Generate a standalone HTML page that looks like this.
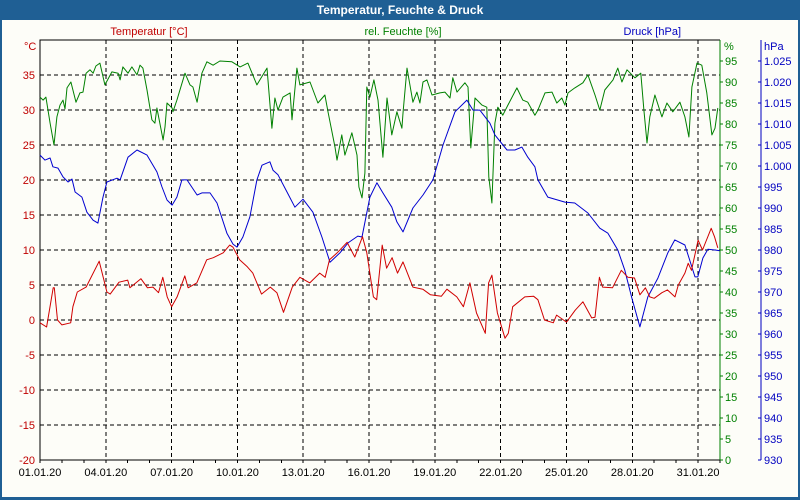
<!DOCTYPE html>
<html><head><meta charset="utf-8"><style>
body{margin:0;background:#fff}
svg{display:block}
text{font-family:"Liberation Sans",sans-serif;font-size:11px}
</style></head><body>
<svg id="chart" width="800" height="500" xmlns="http://www.w3.org/2000/svg">
<rect x="0" y="0" width="800" height="500" fill="#1f5f94"/>
<rect x="2" y="20" width="796" height="477" fill="#fdfdf8"/>
<text x="400" y="14" text-anchor="middle" fill="#fff" font-weight="bold" style="font-size:12px">Temperatur, Feuchte &amp; Druck</text>
<text x="149" y="35" text-anchor="middle" fill="#c00000">Temperatur [°C]</text>
<text x="403" y="35" text-anchor="middle" fill="#008000">rel. Feuchte [%]</text>
<text x="681" y="35" text-anchor="end" fill="#0000c0">Druck [hPa]</text>
<text x="24" y="50" fill="#c00000">°C</text>
<text x="724" y="50" fill="#008000">%</text>
<text x="764" y="50" fill="#0000c0">hPa</text>
<g id="grid"></g><g id="axes"></g><g id="series"></g>
</svg>
<script>
const tempTicks=[-20,-15,-10,-5,0,5,10,15,20,25,30,35];
const humTicks=[0,5,10,15,20,25,30,35,40,45,50,55,60,65,70,75,80,85,90,95];
const presTicks=[930,935,940,945,950,955,960,965,970,975,980,985,990,995,1000,1005,1010,1015,1020,1025];
const dateLabels=["01.01.20","04.01.20","07.01.20","10.01.20","13.01.20","16.01.20","19.01.20","22.01.20","25.01.20","28.01.20","31.01.20"];
const tempTimes=[0,0.3,0.6,0.65,0.8,1.0,1.4,1.5,1.7,2.1,2.7,3.05,3.2,3.6,4.0,4.1,4.6,4.9,5.15,5.4,5.6,5.8,6.0,6.25,6.6,6.75,7.15,7.6,7.9,8.35,8.65,8.8,9.1,9.45,9.7,10.1,10.5,10.8,11.1,11.5,11.85,12.3,12.75,13.0,13.2,13.55,14.0,14.35,14.7,14.9,15.2,15.35,15.6,15.8,16.05,16.3,16.55,17.0,17.45,17.8,18.3,18.55,19.0,19.3,19.6,19.9,20.3,20.45,20.6,20.85,21.2,21.35,21.55,22.1,22.5,22.7,23.0,23.4,23.55,24.0,24.4,24.75,25.15,25.3,25.5,25.65,26.1,26.5,26.8,27.1,27.35,27.6,27.8,28.0,28.35,28.6,28.95,29.1,29.4,29.55,29.7,30.0,30.2,30.6,30.75,30.9];
const tempValues=[-0.4,-1.0,4.6,4.6,0,-0.7,-0.4,1.9,4.0,4.7,8.4,4.0,3.7,5.4,5.7,4.6,5.9,4.6,4.7,3.9,6.1,3.3,1.9,3.3,6.3,4.6,5.3,8.6,8.9,9.6,10.7,10.4,8.6,7.6,6.7,3.7,4.7,3.9,1.1,4.7,6.1,5.3,6.7,6.1,8.6,9.6,11.1,9.0,11.9,9.6,3.3,2.9,10.7,7.4,8.9,6.7,8.3,4.7,4.4,3.6,3.4,4.4,3.3,1.9,5.3,1.0,-1.9,5.3,6.4,1.0,-2.6,-1.9,1.9,3.3,3.4,2.9,0,-0.4,0.7,-0.3,1.4,2.6,0.3,0.4,6.1,4.7,4.6,7.1,6.1,6.0,3.6,4.6,3.3,3.1,3.9,4.3,3.3,5.0,6.7,8.1,7.1,11.4,10.0,13.1,11.9,10.3];
const humTimes=[0,0.14,0.27,0.46,0.64,0.77,0.91,1.05,1.14,1.23,1.41,1.64,1.82,1.96,2.1,2.28,2.42,2.55,2.73,2.96,3.28,3.56,3.65,3.78,4.01,4.19,4.42,4.56,4.69,4.88,5.1,5.24,5.33,5.61,5.7,5.79,6.02,6.06,6.24,6.61,6.84,6.97,7.16,7.38,7.61,7.89,8.2,8.75,9.12,9.48,9.89,10.16,
10.35,10.57,10.71,10.85,11.08,11.4,11.49,11.71,11.85,12.31,12.67,12.99,13.13,13.45,13.54,13.76,13.9,14.22,14.45,14.54,14.68,14.81,14.9,15.04,15.22,15.41,15.63,15.82,16.04,16.27,16.5,16.55,16.73,17.0,17.18,17.32,17.46,17.64,17.87,18.23,18.46,18.69,18.82,19.01,19.37,19.51,19.64,19.83,20.15,20.37,20.46,
20.6,20.74,20.87,21.1,21.33,21.74,22.01,22.24,22.56,22.7,23.02,23.34,23.56,23.79,23.93,24.07,24.38,24.75,24.98,25.3,25.52,25.75,26.12,26.34,26.53,26.76,27.12,27.39,27.53,27.67,27.8,28.03,28.35,28.58,28.85,29.17,29.4,29.58,29.72,29.95,30.17,30.4,30.63,30.77,30.9];
const humValues=[86.4,85.7,86.4,80.2,75.0,81.7,84.5,85.7,83.6,88.6,90.0,85.2,87.4,87.6,92.1,92.9,92.1,93.8,94.5,89.3,92.4,92.1,90.5,93.6,92.1,93.6,91.7,94.0,93.3,88.1,81.0,80.2,83.8,76.2,79.3,85.0,83.8,82.9,85.7,92.1,89.3,88.8,85.2,92.1,94.8,94.0,95.0,94.8,93.6,94.5,89.3,91.7,
93.3,79.0,86.2,83.3,86.4,87.4,81.0,93.3,89.3,90.0,85.0,86.9,82.9,74.5,71.4,77.4,72.6,77.9,72.6,65.0,62.4,68.3,88.8,86.4,90.5,85.7,72.1,86.2,77.4,82.9,79.0,82.6,93.3,85.2,87.6,85.0,90.0,90.5,86.9,87.4,87.6,86.2,91.0,87.6,89.8,88.8,74.3,86.2,84.5,84.0,67.4,
61.2,80.2,84.0,82.1,84.5,88.6,85.7,85.2,82.1,83.3,87.4,87.6,85.0,86.2,84.5,87.4,88.6,89.8,91.7,86.9,83.3,88.1,90.5,93.3,90.0,92.9,91.0,92.1,83.3,75.5,81.7,86.9,81.7,85.0,82.9,85.2,81.7,76.9,88.8,94.5,94.0,87.4,77.4,79.0,83.8];
const presTimes=[0,0.23,0.46,0.59,0.82,1.05,1.28,1.46,1.6,1.91,2.14,2.42,2.64,2.87,3.05,3.51,3.65,4.01,4.42,4.88,5.33,5.56,5.79,6.02,6.24,6.47,6.7,7.16,7.38,7.75,8.07,8.52,8.8,8.98,9.25,9.57,9.89,10.12,10.48,
10.62,10.85,11.26,11.62,11.99,12.44,12.85,13.22,13.67,14.04,14.49,14.68,15.04,15.36,15.63,16.04,16.27,16.55,17.0,17.46,17.91,18.37,18.92,19.46,19.74,20.05,20.51,
20.74,21.29,21.65,21.97,22.24,22.56,22.7,23.15,23.93,24.38,24.98,25.52,25.89,26.34,26.66,26.98,27.35,27.71,28.17,28.62,28.94,29.4,29.86,29.99,30.22,30.45,30.77,30.99];
const presValues=[1002.6,1001.4,1001.9,999.8,999.5,997.4,996.2,996.9,993.8,992.6,989.0,987.1,986.4,992.6,996.2,997.1,996.7,1002.1,1003.8,1002.6,998.6,995.0,991.9,990.7,992.6,996.7,996.7,993.1,993.6,993.6,991.2,984.0,981.4,980.7,983.1,987.9,996.7,1000.2,1001.0,
999.0,997.9,993.8,990.2,992.1,989.0,983.1,977.1,979.3,981.7,983.3,983.1,992.6,996.0,993.6,990.2,986.7,984.3,990.0,993.1,996.7,1005.0,1012.9,1015.7,1013.3,1013.3,1010.2,
1007.4,1003.8,1003.8,1004.5,1002.1,999.8,996.7,992.6,991.4,991.2,988.8,985.2,984.0,980.0,975.2,968.6,961.7,968.8,973.3,979.3,982.4,981.2,973.6,973.6,978.1,980.2,980.0,979.8];

const NS="http://www.w3.org/2000/svg";
const X0=40,X1=720,Y0=40,Y1=460,DAYS=31;
const xOf=d=>X0+d*(X1-X0)/DAYS;
const yTemp=t=>Y1-(t+20)*7;
const yHum=h=>Y1-h*4.2;
const yPres=p=>Y1-(p-930)*4.2;
function mk(tag,attrs,parent,txt){const e=document.createElementNS(NS,tag);for(const k in attrs)e.setAttribute(k,attrs[k]);if(txt!==undefined)e.textContent=txt;parent.appendChild(e);return e;}
const grid=document.getElementById('grid'),axes=document.getElementById('axes'),series=document.getElementById('series');
tempTicks.forEach(t=>{
  if(t>-20){const l=mk('line',{x1:X0,x2:X1,y1:yTemp(t),y2:yTemp(t),stroke:'#000','stroke-dasharray':'4,3','stroke-width':1,'shape-rendering':'crispEdges'},grid);
  
  }
  const tx=mk('text',{x:35,y:yTemp(t)+4,'text-anchor':'end',fill:'#c00000'},axes,String(t));
  
  
});
dateLabels.forEach((s,i)=>{
  const x=xOf(i*3);
  if(i>0){const l=mk('line',{x1:x,x2:x,y1:Y0,y2:Y1,stroke:'#000','stroke-dasharray':'4,3','stroke-width':1,'shape-rendering':'crispEdges'},grid);
  
  }
  const tx=mk('text',{x:x,y:476,'text-anchor':'middle',fill:'#000'},axes,s);
  
  
});
for(let d=0;d<=DAYS;d++){const l=mk('line',{x1:xOf(d),x2:xOf(d),y1:Y1,y2:Y1+3,stroke:'#000','shape-rendering':'crispEdges'},axes);
  
  }
humTicks.forEach(h=>{
  const y=yHum(h);
  const l=mk('line',{x1:X1,x2:X1+3,y1:y,y2:y,stroke:'#008000','shape-rendering':'crispEdges'},axes);
  
  
  const tx=mk('text',{x:725,y:y+4,fill:'#008000'},axes,String(h));
  
  
});
presTicks.forEach(p=>{
  const y=yPres(p);
  const l=mk('line',{x1:758,x2:761,y1:y,y2:y,stroke:'#0000c0','shape-rendering':'crispEdges'},axes);
  
  
  const s=p>=1000?'1.'+String(p-1000).padStart(3,'0'):String(p);
  const tx=mk('text',{x:764,y:y+4,fill:'#0000c0'},axes,s);
  
  
});
let a;
a=mk('path',{d:`M${X0},${Y1}V${Y0}H${X1}`,fill:'none',stroke:'#000','stroke-width':1,'shape-rendering':'crispEdges'},axes);


a=mk('line',{x1:X0,x2:X1,y1:Y1,y2:Y1,stroke:'#000','stroke-width':1,'shape-rendering':'crispEdges'},axes);


a=mk('line',{x1:X1,x2:X1,y1:Y0,y2:Y1,stroke:'#008000','stroke-width':1,'shape-rendering':'crispEdges'},axes);


a=mk('line',{x1:761,x2:761,y1:Y0,y2:Y1,stroke:'#0000c0','stroke-width':1,'shape-rendering':'crispEdges'},axes);


function line(times,vals,yf,color,name){
  const d=times.map((t,i)=>(i?'L':'M')+xOf(t).toFixed(1)+','+yf(vals[i]).toFixed(1)).join('');
  const p=mk('path',{d:d,fill:'none',stroke:color,'stroke-width':1,'stroke-linejoin':'round'},series);
  
  
}
line(humTimes,humValues,yHum,'#008000','humidity-line');
line(presTimes,presValues,yPres,'#0000d0','pressure-line');
line(tempTimes,tempValues,yTemp,'#d00000','temperature-line');
</script>
</body></html>
